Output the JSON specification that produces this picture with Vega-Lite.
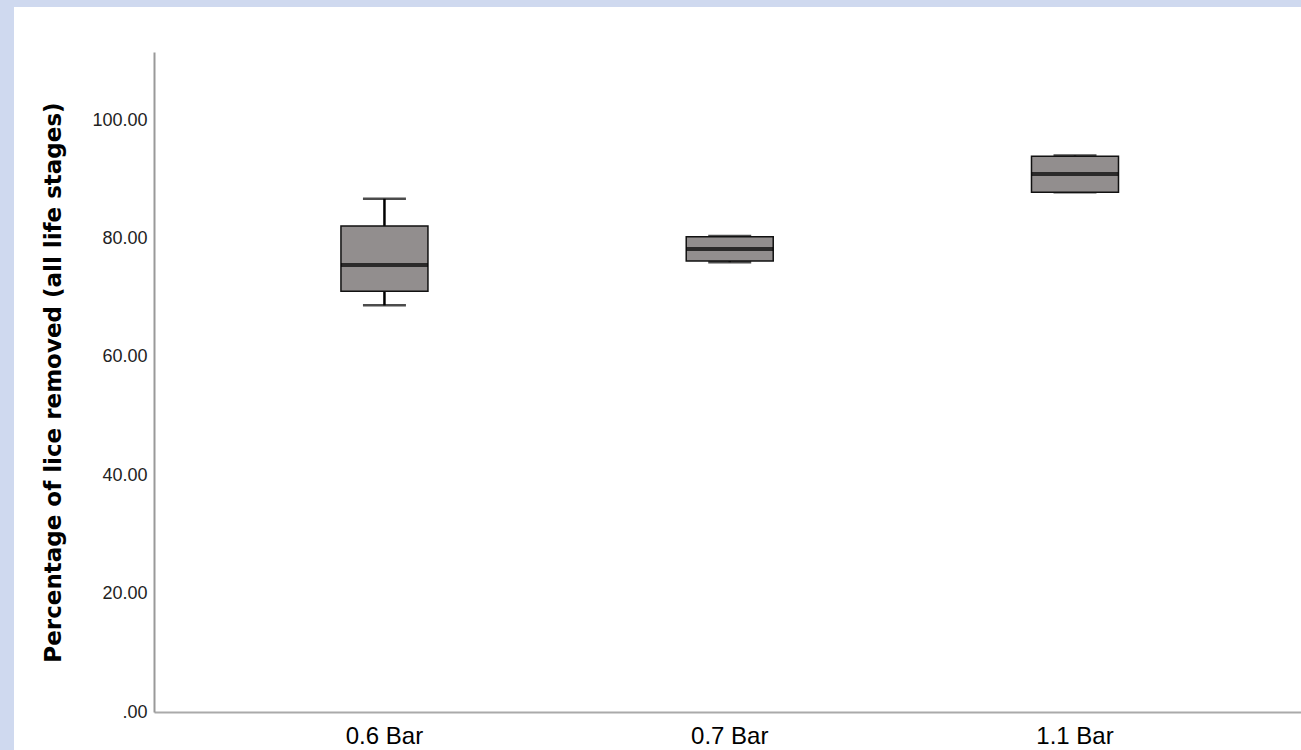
{
  "$schema": "https://vega.github.io/schema/vega-lite/v6.json",
  "width": 1287,
  "height": 743,
  "autosize": {"type": "none"},
  "padding": {"left": 14, "top": 7, "right": 0, "bottom": 0},
  "background": "#cfd9ef",
  "config": {
    "view": {"fill": "white", "stroke": null},
    "font": "Liberation Sans"
  },
  "data": {
    "values": [
      {"group": "0.6 Bar", "lo": 68.7, "q1": 71.1, "median": 75.5, "q3": 82.1, "hi": 86.7},
      {"group": "0.7 Bar", "lo": 76.0, "q1": 76.2, "median": 78.2, "q3": 80.3, "hi": 80.4},
      {"group": "1.1 Bar", "lo": 87.8, "q1": 87.8, "median": 90.9, "q3": 93.9, "hi": 94.0}
    ]
  },
  "encoding": {
    "x": {
      "field": "group",
      "type": "nominal",
      "sort": null,
      "scale": {"range": [140, 1287], "paddingInner": 0, "paddingOuter": 0.161, "align": 0.52},
      "axis": {
        "title": null,
        "labelAngle": 0,
        "labelFontSize": 24,
        "labelColor": "#000000",
        "labelPadding": 12,
        "ticks": false,
        "offset": -38,
        "domainColor": "#aaaaaa",
        "domainWidth": 2
      }
    }
  },
  "layer": [
    {
      "mark": {"type": "rule", "color": "#000000", "strokeWidth": 2.5},
      "encoding": {
        "y": {
          "field": "lo",
          "type": "quantitative",
          "scale": {"domain": [0, 111.5], "range": [705, 45], "nice": false, "zero": false},
          "axis": {
            "title": "Percentage of lice removed (all life stages)",
            "titleFont": "DejaVu Sans",
            "titleFontSize": 23,
            "titleFontWeight": "bold",
            "titleColor": "#000000",
            "titlePadding": 26,
            "values": [0, 20, 40, 60, 80, 100],
            "labelExpr": "datum.value == 0 ? '.00' : format(datum.value, '.2f')",
            "labelFontSize": 18,
            "labelColor": "#222222",
            "labelPadding": 7,
            "ticks": false,
            "grid": false,
            "offset": -140,
            "domainColor": "#999999",
            "domainWidth": 2
          }
        },
        "y2": {"field": "hi"}
      }
    },
    {
      "mark": {"type": "tick", "color": "#000000", "thickness": 2.5, "size": 43},
      "encoding": {"y": {"field": "lo", "type": "quantitative"}}
    },
    {
      "mark": {"type": "tick", "color": "#000000", "thickness": 2.5, "size": 43},
      "encoding": {"y": {"field": "hi", "type": "quantitative"}}
    },
    {
      "mark": {"type": "bar", "fill": "#928e8e", "stroke": "#111111", "strokeWidth": 1.5, "size": 87},
      "encoding": {
        "y": {"field": "q1", "type": "quantitative"},
        "y2": {"field": "q3"}
      }
    },
    {
      "mark": {"type": "tick", "color": "#000000", "thickness": 4, "size": 87},
      "encoding": {"y": {"field": "median", "type": "quantitative"}}
    }
  ]
}
